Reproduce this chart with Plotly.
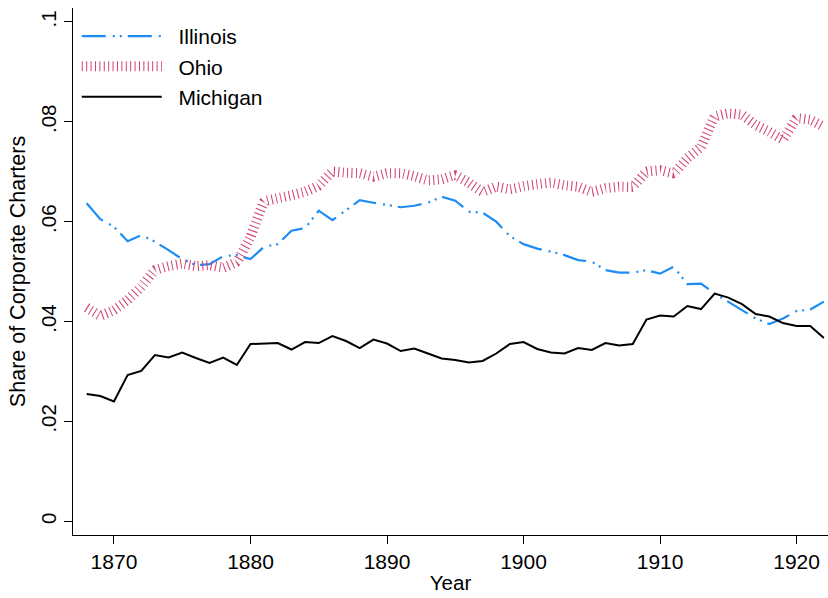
import plotly.graph_objects as go

# ---- data ----
years = list(range(1868, 1923))

illinois = [
    0.0637, 0.0605, 0.0590, 0.0561, 0.0573, 0.0560, 0.0543, 0.0525, 0.0513, 0.0515,
    0.0531, 0.0533, 0.0525, 0.0550, 0.0555, 0.0582, 0.0587, 0.0622, 0.0603, 0.0623,
    0.0643, 0.0638, 0.0633, 0.0629, 0.0632, 0.0638, 0.0650, 0.0642, 0.0620, 0.0618,
    0.0600, 0.0571, 0.0555, 0.0546, 0.0540, 0.0533, 0.0523, 0.0520, 0.0503, 0.0498,
    0.0498, 0.0503, 0.0496, 0.0510, 0.0475, 0.0476, 0.0456, 0.0440, 0.0423, 0.0406,
    0.0395, 0.0406, 0.0421, 0.0424, 0.0440,
]

ohio = [
    0.0428, 0.0412, 0.0423, 0.0443, 0.0470, 0.0503, 0.0511, 0.0516, 0.0511, 0.0513,
    0.0508, 0.0520, 0.0570, 0.0640, 0.0647, 0.0653, 0.0660, 0.0672, 0.0700, 0.0698,
    0.0697, 0.0690, 0.0697, 0.0697, 0.0691, 0.0683, 0.0685, 0.0693, 0.0678, 0.0660,
    0.0670, 0.0665, 0.0671, 0.0675, 0.0678, 0.0673, 0.0670, 0.0660, 0.0667, 0.0670,
    0.0670, 0.0700, 0.0703, 0.0697, 0.0727, 0.0750, 0.0810, 0.0817, 0.0814, 0.0794,
    0.0780, 0.0765, 0.0807, 0.0804, 0.0790,
]

michigan = [
    0.0255, 0.0251, 0.0240, 0.0293, 0.0301, 0.0333, 0.0328, 0.0338, 0.0327, 0.0317,
    0.0328, 0.0313, 0.0355, 0.0356, 0.0357, 0.0344, 0.0359, 0.0357, 0.0371, 0.0361,
    0.0347, 0.0364, 0.0356, 0.0341, 0.0346, 0.0336, 0.0326, 0.0323, 0.0318, 0.0321,
    0.0336, 0.0355, 0.0359, 0.0345, 0.0338, 0.0336, 0.0347, 0.0343, 0.0357, 0.0352,
    0.0355, 0.0404, 0.0412, 0.0410, 0.0431, 0.0425, 0.0456, 0.0448, 0.0435, 0.0415,
    0.0410, 0.0397, 0.0391, 0.0391, 0.0367,
]

x_ticks = [1870, 1880, 1890, 1900, 1910, 1920]
y_ticks = [0, 0.02, 0.04, 0.06, 0.08, 0.1]
y_tick_labels = ["0", ".02", ".04", ".06", ".08", ".1"]

FONT = "Liberation Sans, Arial, Helvetica, sans-serif"
PAD = "\u00a0\u00a0"  # nudges legend text away from the long line samples

fig = go.Figure()

fig.add_trace(go.Scatter(
    x=years, y=illinois, mode="lines", name=PAD + "Illinois",
    line=dict(color="#1e8cf5", width=2.2, dash="24px,7px,2px,5px,2px,6px"),
))
# thick line with tiny dashes -> hatched band like the Stata pattern
fig.add_trace(go.Scatter(
    x=years, y=ohio, mode="lines", name=PAD + "Ohio",
    line=dict(color="#d2416b", width=10, dash="1px,3.4px",
              shape="spline", smoothing=0.25),
))
fig.add_trace(go.Scatter(
    x=years, y=michigan, mode="lines", name=PAD + "Michigan",
    line=dict(color="black", width=2),
))

fig.update_layout(
    width=828, height=598,
    paper_bgcolor="white", plot_bgcolor="white",
    font=dict(family=FONT, size=20, color="black"),
    margin=dict(l=73, r=0, t=8, b=63),
    showlegend=True,
    legend=dict(
        x=0.005, y=0.985, xanchor="left", yanchor="top",
        bgcolor="rgba(0,0,0,0)", borderwidth=0,
        font=dict(size=21), itemwidth=80, tracegroupgap=0,
    ),
    xaxis=dict(
        range=[1867, 1922.3], tickvals=x_ticks,
        showgrid=False, zeroline=False,
        showline=True, linecolor="black", linewidth=1.2,
        ticks="outside", ticklen=8, tickcolor="black", tickwidth=1.2,
        tickfont=dict(size=21),
        title=dict(text="Year", font=dict(size=20.5), standoff=3),
    ),
    yaxis=dict(
        range=[-0.00275, 0.1028], tickvals=y_ticks, ticktext=y_tick_labels,
        tickangle=-90,
        showgrid=False, zeroline=False,
        showline=True, linecolor="black", linewidth=1.2,
        ticks="outside", ticklen=8, tickcolor="black", tickwidth=1.2,
        tickfont=dict(size=20.5),
        title=dict(text="Share of Corporate Charters", font=dict(size=21.5), standoff=5),
    ),
)

# drop the default page margin so the 828x598 figure fits the window exactly
fig.write_html(
    "out.html",
    config={"displayModeBar": False},
    post_script="document.body.style.margin='0';",
)
